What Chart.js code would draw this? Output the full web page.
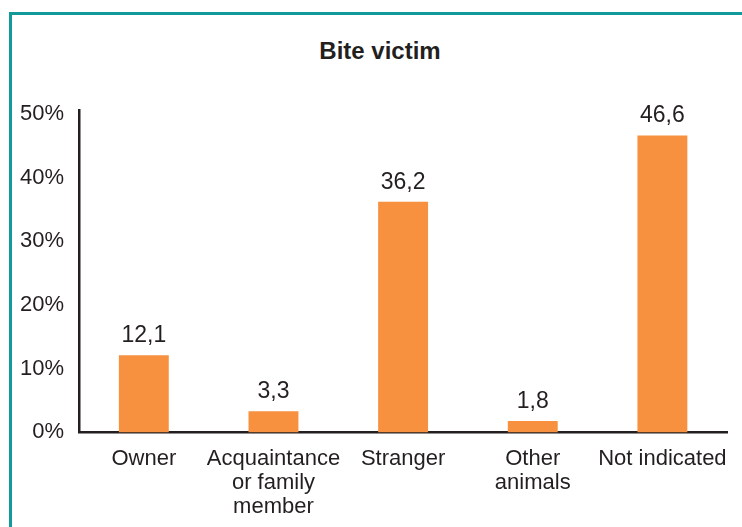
<!DOCTYPE html>
<html>
<head>
<meta charset="utf-8">
<script src="https://cdn.jsdelivr.net/npm/chart.js@4"></script>
<style>
    html, body { margin: 0; padding: 0; background: #fff; overflow: hidden; }
    body { width: 742px; height: 527px; position: relative; font-family: "Liberation Sans", Arial, Helvetica, sans-serif; }
    .frame {
        position: absolute; left: 9px; top: 12px;
        width: 800px; height: 600px;
        border-left: 3px solid #12999b; border-top: 3px solid #12999b;
    }
    .chart-title {
        position: absolute; left: 280px; width: 200px; top: 39px;
        text-align: center; font-size: 24px; line-height: 24px; font-weight: bold; color: #231f20;
    }
    .chart-box { position: absolute; left: 12px; top: 15px; width: 730px; height: 518px; }
</style>
</head>
<body>
<div class="frame"></div>
<div class="chart-title">Bite victim</div>
<div class="chart-box"><canvas id="biteChart"></canvas></div>
<script>
// Bite victim shares (%)
const categories = ['Owner', ['Acquaintance', 'or family', 'member'], 'Stranger', ['Other', 'animals'], 'Not indicated'];
const shares = [12.1, 3.3, 36.2, 1.8, 46.6];
const yTicks = [0, 10, 20, 30, 40, 50];

const FONT = '"Liberation Sans", Arial, Helvetica, sans-serif';
const INK = '#231f20';

// value labels above each bar, decimal comma
const barValueLabels = {
    id: 'barValueLabels',
    afterDatasetsDraw(chart) {
        const ctx = chart.ctx;
        const meta = chart.getDatasetMeta(0);
        ctx.save();
        ctx.font = '23px ' + FONT;
        ctx.fillStyle = INK;
        ctx.textAlign = 'center';
        ctx.textBaseline = 'alphabetic';
        meta.data.forEach((bar, i) => {
            const text = shares[i].toFixed(1).replace('.', ',');
            ctx.fillText(text, bar.x, bar.y - 13);
        });
        ctx.restore();
    }
};

const ctx = document.getElementById('biteChart').getContext('2d');
new Chart(ctx, {
    type: 'bar',
    data: {
        labels: categories,
        datasets: [{
            data: shares,
            backgroundColor: '#f7913f',
            borderWidth: 0,
            barPercentage: 0.385,
            categoryPercentage: 1
        }]
    },
    options: {
        responsive: true,
        maintainAspectRatio: false,
        animation: false,
        layout: { padding: { left: 8, right: 14, top: 95, bottom: 0 } },
        plugins: {
            legend: { display: false },
            tooltip: { enabled: false }
        },
        scales: {
            x: {
                grid: { display: false, drawTicks: false },
                border: { display: true, color: INK, width: 2.5 },
                ticks: {
                    color: INK,
                    padding: 14,
                    maxRotation: 0,
                    autoSkip: false,
                    font: { family: FONT, size: 22, lineHeight: 1.1 }
                }
            },
            y: {
                min: 0,
                max: 50.6,
                grid: { display: false, drawTicks: false },
                border: { display: true, color: INK, width: 2.5 },
                afterBuildTicks(scale) {
                    scale.ticks = yTicks.map(v => ({ value: v }));
                },
                afterFit(scale) {
                    scale.width = 59;
                },
                ticks: {
                    color: INK,
                    padding: 15,
                    font: { family: FONT, size: 22 },
                    callback: v => v + '%'
                }
            }
        }
    },
    plugins: [barValueLabels]
});
</script>
</body>
</html>
